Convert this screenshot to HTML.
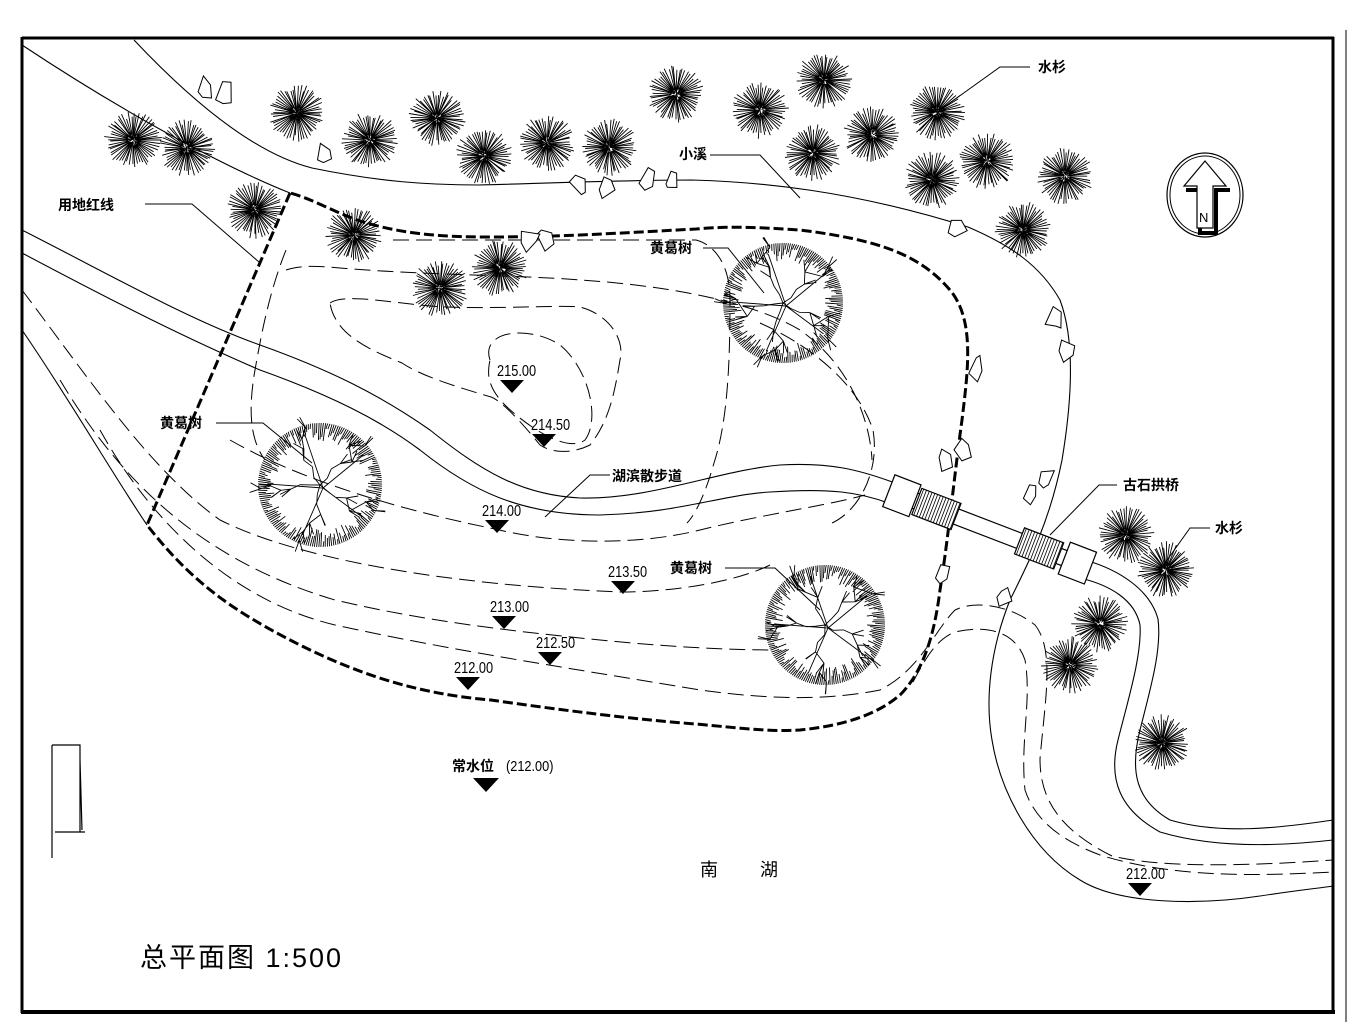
<!DOCTYPE html>
<html><head><meta charset="utf-8">
<style>
html,body{margin:0;padding:0;background:#fff;}
svg{display:block;}
text{font-family:"Liberation Sans","Noto Sans CJK SC",sans-serif;fill:#000;}
.cn{font-weight:bold;font-size:14px;}
.num{font-size:15px;}
</style></head><body>
<svg id="s" width="1360" height="1022" viewBox="0 0 1360 1022" xmlns="http://www.w3.org/2000/svg">
<rect width="1360" height="1022" fill="#fff"/>
<g stroke="#000" fill="none">
<line x1="22" y1="38" x2="1334" y2="38" stroke-width="3"/>
<line x1="22" y1="37" x2="22" y2="1013" stroke-width="3"/>
<line x1="21" y1="1012" x2="1335" y2="1012" stroke-width="4"/>
<line x1="1333" y1="37" x2="1333" y2="1013" stroke-width="3"/>
<line x1="1346" y1="30" x2="1346" y2="1022" stroke-width="1"/>
</g>
<g stroke="#000" fill="none" stroke-width="1.1">
<path d="M134,40 C200,110 260,155 312,168 C380,182 430,185 478,185 C560,183 620,180 692,180 C760,182 850,190 968,227 C1010,245 1040,265 1060,300 C1075,340 1072,400 1062,460 C1050,520 1030,560 1010,600 C990,650 985,700 992,740 C1000,790 1030,850 1080,880 C1120,905 1200,905 1260,896 C1300,890 1320,888 1333,886"/>
<path d="M22,45 C120,110 220,165 290,193"/>
<path d="M22,230 C120,280 190,320 260,345 C330,370 380,395 430,430 C480,470 520,495 580,498 C650,500 720,470 780,465 C830,462 860,470 895,483"/>
<path d="M22,253 C120,305 190,340 260,370 C330,395 380,420 420,450 C470,490 520,515 600,515 C680,513 720,495 770,492 C830,488 860,492 891,504"/>
<path d="M1085,560 C1120,570 1150,590 1158,619 C1162,650 1150,690 1140,730 C1130,770 1135,800 1170,820 C1220,835 1280,828 1333,820"/>
<path d="M1080,578 C1110,585 1135,600 1140,625 C1142,655 1128,700 1118,740 C1108,780 1120,810 1160,832 C1220,850 1290,845 1333,840"/>
<path d="M22,330 C70,400 110,470 147,525"/>
</g>
<g stroke="#000" fill="none" stroke-width="1" stroke-dasharray="16,7">
<path d="M490,360 C480,330 530,325 560,345 C590,370 600,420 585,440 C565,455 520,420 505,405 C485,385 488,370 490,360"/>
<path d="M330,303 C345,292 400,305 446,307 C500,309 560,305 580,307 C610,315 625,340 620,360 C615,390 610,420 590,445 C570,455 550,452 540,445 C520,420 500,400 491,397 C450,385 420,375 402,363 C370,350 335,335 330,303"/>
<path d="M286,270 C300,265 320,266 340,268 C420,275 520,275 580,280 C660,285 750,300 800,330 C850,365 870,420 872,460"/>
<path d="M286,250 C270,290 262,330 255,370 C248,410 250,440 265,460"/>
<path d="M393,240 C500,240 600,240 696,240 C715,245 730,265 730,300 C730,360 728,420 714,463 C705,495 695,515 687,523"/>
<path d="M760,323 C820,350 860,390 873,430 C880,470 860,510 832,523"/>
<path d="M230,440 C300,480 400,510 495,529 C560,545 640,545 700,530 C760,515 830,505 865,495"/>
<path d="M22,290 C90,380 150,470 220,520 C300,560 450,585 620,592 C680,592 740,580 770,565"/>
<path d="M60,380 C120,480 200,560 335,600 C420,620 500,630 600,640 C680,648 740,650 770,650"/>
<path d="M100,430 C150,520 230,600 335,625 C450,650 550,665 700,690 C760,698 820,702 880,690 C920,670 935,630 955,610 C975,600 1010,605 1035,625 C1055,650 1045,700 1040,759 C1040,800 1060,830 1112,856 C1160,868 1250,866 1333,860"/>
<path d="M913,682 C925,660 935,640 955,632 C985,625 1015,630 1025,660 C1032,700 1020,740 1025,790 C1035,820 1060,840 1100,855 C1180,880 1270,875 1333,872"/>
</g>
<path d="M290,193 L147,525 C190,580 230,610 300,645 C370,680 430,695 491,700 C560,710 640,720 696,724 C740,728 770,732 800,730 C850,725 880,712 900,695 C925,670 935,630 940,590 C948,540 955,470 962,420 C968,370 975,320 950,290 C920,255 880,240 800,230 C740,226 720,227 696,229 C620,233 560,237 491,237 C440,237 400,234 357,220 C330,210 310,198 290,193" stroke="#000" fill="none" stroke-width="3" stroke-dasharray="10,4"/>
<g id="br" transform="translate(900,495) rotate(21)" stroke="#000" fill="#fff" stroke-width="1.2">
<rect x="0" y="-8" width="190" height="16"/>
<rect x="-12" y="-17" width="28" height="34"/>
<rect x="176" y="-17" width="28" height="34"/>
<rect x="18" y="-14" width="42" height="28"/>
<rect x="128" y="-14" width="42" height="28"/>
</g>
<g id="trees" stroke="#000" stroke-width="1" fill="none"></g>
<g id="rocks" stroke="#000" stroke-width="1" fill="#fff"></g>
<g stroke="#000" fill="none" stroke-width="1">
<path d="M1030,67 L1000,67 L940,110"/>
<path d="M710,155 L760,155 L800,198"/>
<path d="M145,204 L192,204 L259,262"/>
<path d="M703,248 L728,248 L764,293"/>
<path d="M216,423 L263,423 L312,463"/>
<path d="M610,475 L590,475 L545,517"/>
<path d="M725,568 L775,568 L820,610"/>
<path d="M1117,485 L1099,485 L1050,535"/>
<path d="M1210,528 L1190,528 L1160,570"/>
</g>
<g stroke="#000" fill="none">
<ellipse cx="1205" cy="195" rx="38" ry="42" stroke-width="1.2"/>
<ellipse cx="1205" cy="195" rx="35" ry="39" stroke-width="1"/>
<path d="M1186,190 L1200,190 L1200,233 L1216,233 L1216,190 L1230,190" stroke-width="4"/>
<path d="M1205,161 L1184,186 L1197,186 L1197,228 L1213,228 L1213,186 L1226,186 Z" fill="#fff" stroke-width="1.2"/>
</g>
<text x="1199" y="222" font-size="13">N</text>
<path d="M52,745 L52,858 M52,745 L80,745 L80,832 M55,832 L85,832 M80,760 L82,830" stroke="#000" fill="none" stroke-width="1.2"/>
<text class="cn" x="1038" y="72">水杉</text>
<text class="cn" x="679" y="159">小溪</text>
<text class="cn" x="58" y="210">用地红线</text>
<text class="cn" x="650" y="253">黄葛树</text>
<text class="cn" x="160" y="428">黄葛树</text>
<text class="cn" x="612" y="481">湖滨散步道</text>
<text class="cn" x="670" y="573">黄葛树</text>
<text class="cn" x="1123" y="490">古石拱桥</text>
<text class="cn" x="1215" y="533">水杉</text>
<text class="cn" x="452" y="771">常水位</text>
<text x="506" y="771" font-size="15" transform="translate(506,0) scale(0.85,1) translate(-506,0)">(212.00)</text>
<text x="700" y="876" font-size="18">南</text>
<text x="760" y="876" font-size="18">湖</text>
<text x="140" y="967" font-size="27" letter-spacing="2">总平面图 1:500</text>
<g id="lv"></g>
</svg>
<script>
var NS="http://www.w3.org/2000/svg";
var seed=7;function R(){seed=(seed*16807)%2147483647;return seed/2147483647;}
var T=document.getElementById('trees');
function add(p,tag,at){var e=document.createElementNS(NS,tag);for(var k in at)e.setAttribute(k,at[k]);p.appendChild(e);return e;}
var small=[[133,140],[187,148],[255,210],[297,113],[370,140],[437,118],[484,156],[547,143],[609,147],[676,94],[760,110],[824,80],[813,153],[872,135],[937,112],[932,180],[987,161],[1065,176],[1023,230],[354,235],[440,288],[500,268],[1126,535],[1166,570],[1100,624],[1070,665],[1162,743]];
small.forEach(function(c){var d="";for(var i=0;i<56;i++){var a=i/56*Math.PI*2+R()*0.08;var r=22+R()*7;var r0=R()*6;d+="M"+(c[0]+Math.cos(a)*r0).toFixed(1)+","+(c[1]+Math.sin(a)*r0).toFixed(1)+"L"+(c[0]+Math.cos(a)*r).toFixed(1)+","+(c[1]+Math.sin(a)*r).toFixed(1);}
add(T,'path',{d:d,'stroke-width':'0.9'});});
var big=[[783,303,60],[320,485,62],[825,625,60]];
big.forEach(function(c){var x=c[0],y=c[1],r=c[2];var d="";
for(var i=0;i<180;i++){var a=i/180*Math.PI*2;var r1=r-4-R()*14;d+="M"+(x+Math.cos(a)*r1).toFixed(1)+","+(y+Math.sin(a)*r1).toFixed(1)+"L"+(x+Math.cos(a+0.02)*r).toFixed(1)+","+(y+Math.sin(a+0.02)*r).toFixed(1);}
for(var b=0;b<5;b++){var a=b/5*Math.PI*2+0.5;var px=x,py=y;for(var s=1;s<=6;s++){var aa=a+(R()-0.5)*0.5;var nx=x+Math.cos(aa)*r*s/6.3,ny=y+Math.sin(aa)*r*s/6.3;d+="M"+px.toFixed(1)+","+py.toFixed(1)+"L"+nx.toFixed(1)+","+ny.toFixed(1);
if(s>2){for(var k=0;k<2;k++){var ba=aa+(R()-0.5)*1.4;d+="M"+nx.toFixed(1)+","+ny.toFixed(1)+"l"+(Math.cos(ba)*12).toFixed(1)+","+(Math.sin(ba)*12).toFixed(1);}}
px=nx;py=ny;}
var a2=a+0.15;d+="M"+(x+3).toFixed(1)+","+(y+3)+"L"+(x+Math.cos(a2)*r*0.85).toFixed(1)+","+(y+Math.sin(a2)*r*0.85).toFixed(1);}
add(T,'path',{d:d,'stroke-width':'0.9'});});
var B=document.getElementById('br');var hd="";
[18,128].forEach(function(x0){for(var i=2;i<42;i+=3){hd+="M"+(x0+i)+",-14L"+(x0+i)+",14";}});
add(B,'path',{d:hd,'stroke-width':'0.8',fill:'none'});
var RK=document.getElementById('rocks');
var rocks=[[205,88],[225,93],[325,155],[545,238],[530,240],[580,185],[605,188],[648,180],[672,180],[958,228],[1055,318],[1067,350],[976,368],[945,460],[962,450],[1045,478],[1030,495],[942,575],[1003,598]];
rocks.forEach(function(c){var d="M";for(var i=0;i<5;i++){var a=i/5*Math.PI*2+R();var r=7+R()*7;d+=(c[0]+Math.cos(a)*r*0.8).toFixed(1)+","+(c[1]+Math.sin(a)*r).toFixed(1)+(i<4?"L":"Z");}add(RK,'path',{d:d});});
var L=document.getElementById('lv');
var lv=[["215.00",497,376,512],["214.50",531,430,544],["214.00",482,516,497],["213.50",608,577,623],["213.00",490,612,504],["212.50",536,648,550],["212.00",454,673,468],["212.00",1126,879,1140]];
lv.forEach(function(v){var t=add(L,'text',{x:v[1],y:v[2],'font-size':'16',transform:"translate("+v[1]+",0) scale(0.8,1) translate("+(-v[1])+",0)"});t.textContent=v[0];
var ty=v[2]+4,tx=v[3];add(L,'path',{d:"M"+(tx-12)+","+ty+"L"+(tx+12)+","+ty+"L"+tx+","+(ty+13)+"Z",fill:"#000"});});
add(L,'path',{d:"M473,778L499,778L486,792Z",fill:"#000"});
</script>
</body></html>
